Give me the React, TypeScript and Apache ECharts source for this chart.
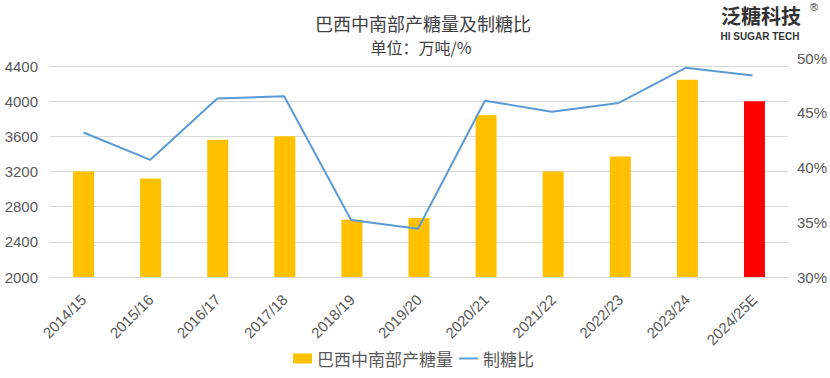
import React, { useEffect, useRef } from "react";
import * as echarts from "echarts";

const categories = ["2014/15", "2015/16", "2016/17", "2017/18", "2018/19", "2019/20", "2020/21", "2021/22", "2022/23", "2023/24", "2024/25E"];
const production = [3200, 3120, 3560, 3600, 2650, 2670, 3840, 3200, 3370, 4245, 4000];
const ratio = [43.2, 40.7, 46.3, 46.5, 35.2, 34.4, 46.1, 45.1, 45.9, 49.1, 48.4];
const leftTicks = [2000, 2400, 2800, 3200, 3600, 4000, 4400];
const rightTicks = [30, 35, 40, 45, 50];

const titleText = "巴西中南部产糖量及制糖比";
const subtitleText = "单位：万吨/%";
const barName = "巴西中南部产糖量";
const lineName = "制糖比";

const GRAY = "#595959";
const NUM_FONT = "'Liberation Sans', Arial, sans-serif";
const CJK_FONT = "'Noto Sans CJK SC', sans-serif";

export default function App() {
  const ref = useRef<HTMLDivElement>(null);
  useEffect(() => {
    if (!ref.current) return;
    const chart = echarts.init(ref.current, null, { renderer: "svg" });
    const lastIdx = production.length - 1;
    chart.setOption({
      animation: false,
      backgroundColor: "#ffffff",
      grid: [
        { left: 50, right: 42, top: 66, bottom: 101 },
        { left: 50, right: 42, top: 58, bottom: 101 },
      ],
      xAxis: [
        {
          type: "category",
          gridIndex: 0,
          data: categories,
          boundaryGap: true,
          axisLine: { show: true, lineStyle: { color: "#d9d9d9", width: 1 } },
          axisTick: { show: false },
          axisLabel: {
            rotate: 45,
            margin: 20,
            color: GRAY,
            fontSize: 15,
            fontFamily: NUM_FONT,
            interval: 0,
          },
        },
        {
          type: "category",
          gridIndex: 1,
          data: categories,
          boundaryGap: true,
          show: false,
        },
      ],
      yAxis: [
        {
          type: "value",
          gridIndex: 0,
          min: leftTicks[0],
          max: leftTicks[leftTicks.length - 1],
          interval: 400,
          axisLine: { show: false },
          axisTick: { show: false },
          splitLine: { show: true, lineStyle: { color: "#d9d9d9", width: 1 } },
          axisLabel: {
            color: GRAY,
            fontSize: 15,
            fontFamily: NUM_FONT,
            margin: 12,
            formatter: (v: number) => String(v),
          },
        },
        {
          type: "value",
          gridIndex: 1,
          position: "right",
          min: rightTicks[0],
          max: rightTicks[rightTicks.length - 1],
          interval: 5,
          axisLine: { show: false },
          axisTick: { show: false },
          splitLine: { show: false },
          axisLabel: {
            color: GRAY,
            fontSize: 15,
            fontFamily: NUM_FONT,
            margin: 11,
            formatter: (v: number) => v + "%",
          },
        },
      ],
      legend: {
        bottom: 6,
        left: 288,
        itemWidth: 19,
        itemHeight: 10,
        itemGap: 6,
        textStyle: { color: GRAY, fontSize: 17, fontFamily: CJK_FONT },
        data: [
          { name: barName, icon: "rect" },
          { name: lineName, icon: "path://M0,0L20,0L20,2L0,2Z" },
        ],
      },
      series: [
        {
          name: barName,
          type: "bar",
          xAxisIndex: 0,
          yAxisIndex: 0,
          barWidth: 21,
          itemStyle: { color: "#ffc000" },
          data: production.map((v, i) =>
            i === lastIdx ? { value: v, itemStyle: { color: "#ff0000" } } : v
          ),
        },
        {
          name: lineName,
          type: "line",
          xAxisIndex: 1,
          yAxisIndex: 1,
          symbol: "none",
          showSymbol: false,
          lineStyle: { color: "#5b9bd5", width: 2 },
          itemStyle: { color: "#5b9bd5" },
          data: ratio,
        },
      ],
      graphic: [
        {
          type: "text",
          x: 423,
          y: 23,
          style: {
            text: titleText,
            fontSize: 18,
            fontFamily: CJK_FONT,
            fill: "#404040",
            textAlign: "center",
            textVerticalAlign: "middle",
          },
        },
        {
          type: "text",
          x: 421,
          y: 47,
          style: {
            text: subtitleText,
            fontSize: 16,
            fontFamily: CJK_FONT,
            fill: "#404040",
            textAlign: "center",
            textVerticalAlign: "middle",
          },
        },
        {
          type: "text",
          x: 761,
          y: 15,
          style: {
            text: "泛糖科技",
            fontSize: 20,
            fontWeight: "bold",
            fontFamily: CJK_FONT,
            fill: "#333333",
            textAlign: "center",
            textVerticalAlign: "middle",
          },
        },
        {
          type: "text",
          x: 814,
          y: 7,
          style: {
            text: "®",
            fontSize: 11,
            fontFamily: NUM_FONT,
            fill: "#333333",
            textAlign: "center",
            textVerticalAlign: "middle",
          },
        },
        {
          type: "text",
          x: 760,
          y: 36,
          style: {
            text: "HI SUGAR TECH",
            fontSize: 10,
            fontWeight: "bold",
            fontFamily: NUM_FONT,
            fill: "#333333",
            textAlign: "center",
            textVerticalAlign: "middle",
          },
        },
      ],
    });
    return () => chart.dispose();
  }, []);
  return (
    <div
      ref={ref}
      style={{ position: "fixed", left: 0, top: 0, width: 830, height: 378, background: "#fff" }}
    />
  );
}
